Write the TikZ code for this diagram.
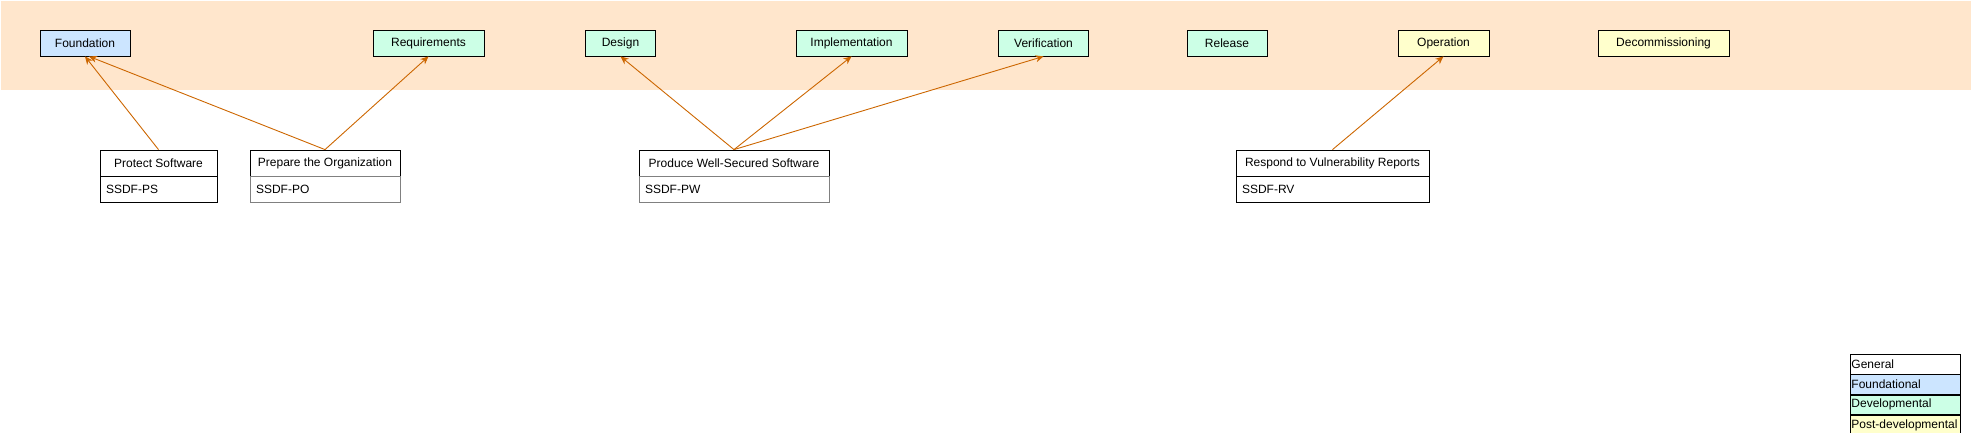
\documentclass[tikz,border=0pt]{standalone}
\usepackage{fontspec}
\setmainfont{Liberation Sans}
\usetikzlibrary{arrows.meta, positioning}
\definecolor{bandfill}{HTML}{FFE6CC}
\definecolor{foundfill}{HTML}{CCE5FF}
\definecolor{devfill}{HTML}{CCFFE6}
\definecolor{postfill}{HTML}{FFFFCC}
\definecolor{arrline}{HTML}{CC6600}
\tikzset{
  sdlcphase/.style = {font=\fontsize{12}{14}\selectfont, draw=black,
                      line width=0.8pt, minimum height=26pt, inner sep=0pt},
  sdlcfound/.style = {sdlcphase, fill=foundfill},
  sdlcdev/.style   = {sdlcphase, fill=devfill},
  sdlcpost/.style  = {sdlcphase, fill=postfill},
  ssdfttl/.style   = {font=\fontsize{12}{14}\selectfont, draw=black, fill=white,
                      line width=0.8pt, minimum height=26pt, inner sep=0pt},
  ssdfid/.style    = {font=\fontsize{12}{14}\selectfont, draw=black, fill=white,
                      line width=0.8pt, minimum height=26pt, inner xsep=6pt,
                      inner ysep=0pt, align=left},
  ssdfarr/.style   = {draw=arrline, line width=0.9pt,
                      -{Stealth[length=8pt, width=7pt, inset=2.5pt]}},
  lgdrow/.style    = {font=\fontsize{12}{14}\selectfont, draw=black,
                      line width=0.8pt, minimum height=19.5pt, inner xsep=1pt,
                      inner ysep=0pt, text width=108pt, align=left},
}

\begin{document}
\begin{tikzpicture}[x=1pt, y=-1pt]
    \useasboundingbox (0,0) rectangle (1971,433);
    % lifecycle band
    \fill[bandfill] (1,1) rectangle (1971,90);

    \node[sdlcfound, minimum width=90pt]  (found)  at (85,43)     {Foundation};
    \node[sdlcdev,   minimum width=111pt] (req)    at (428.5,43)  {Requirements};
    \node[sdlcdev,   minimum width=70pt]  (design) at (620.5,43)  {Design};
    \node[sdlcdev,   minimum width=111pt] (impl)   at (851.5,43)  {Implementation};
    \node[sdlcdev,   minimum width=90pt]  (verif)  at (1043.5,43) {Verification};
    \node[sdlcdev,   minimum width=80pt]  (rel)    at (1227,43)   {Release};
    \node[sdlcpost,  minimum width=91pt]  (oper)   at (1443.5,43) {Operation};
    \node[sdlcpost,  minimum width=131pt] (decom)  at (1663.5,43) {Decommissioning};

    % practice groups
    \node[ssdfttl, minimum width=117pt] (ps) at (158.5,163) {Protect Software};
    \node[ssdfid, below=0pt of ps, text width=105pt] (psid) {SSDF-PS};

    \node[ssdfttl, minimum width=150pt] (po) at (325,163) {Prepare the Organization};
    \node[ssdfid, below=0pt of po, text width=138pt, draw=black!50] (poid) {SSDF-PO};

    \node[ssdfttl, minimum width=190pt] (pw) at (734,163) {Produce Well-Secured Software};
    \node[ssdfid, below=0pt of pw, text width=178pt, draw=black!50] (pwid) {SSDF-PW};

    \node[ssdfttl, minimum width=193pt] (rv) at (1332.5,163) {Respond to Vulnerability Reports};
    \node[ssdfid, below=0pt of rv, text width=181pt] (rvid) {SSDF-RV};

    \draw[ssdfarr] (ps.north) -- (found.south);
    \draw[ssdfarr] (po.north) -- ([xshift=4pt]found.south);
    \draw[ssdfarr] (po.north) -- (req.south);
    \draw[ssdfarr] (pw.north) -- (design.south);
    \draw[ssdfarr] (pw.north) -- (impl.south);
    \draw[ssdfarr] (pw.north) -- (verif.south);
    \draw[ssdfarr] (rv.north) -- (oper.south);

    % legend
    \node[lgdrow, anchor=north west] (lgdgen) at (1850,354) {General};
    \node[lgdrow, fill=foundfill, below=0pt of lgdgen] (lgdfound) {Foundational};
    \node[lgdrow, fill=devfill, below=0pt of lgdfound] (lgddev) {Developmental};
    \node[lgdrow, fill=postfill, below=0pt of lgddev] (lgdpost) {Post-developmental};
\end{tikzpicture}
\end{document}
